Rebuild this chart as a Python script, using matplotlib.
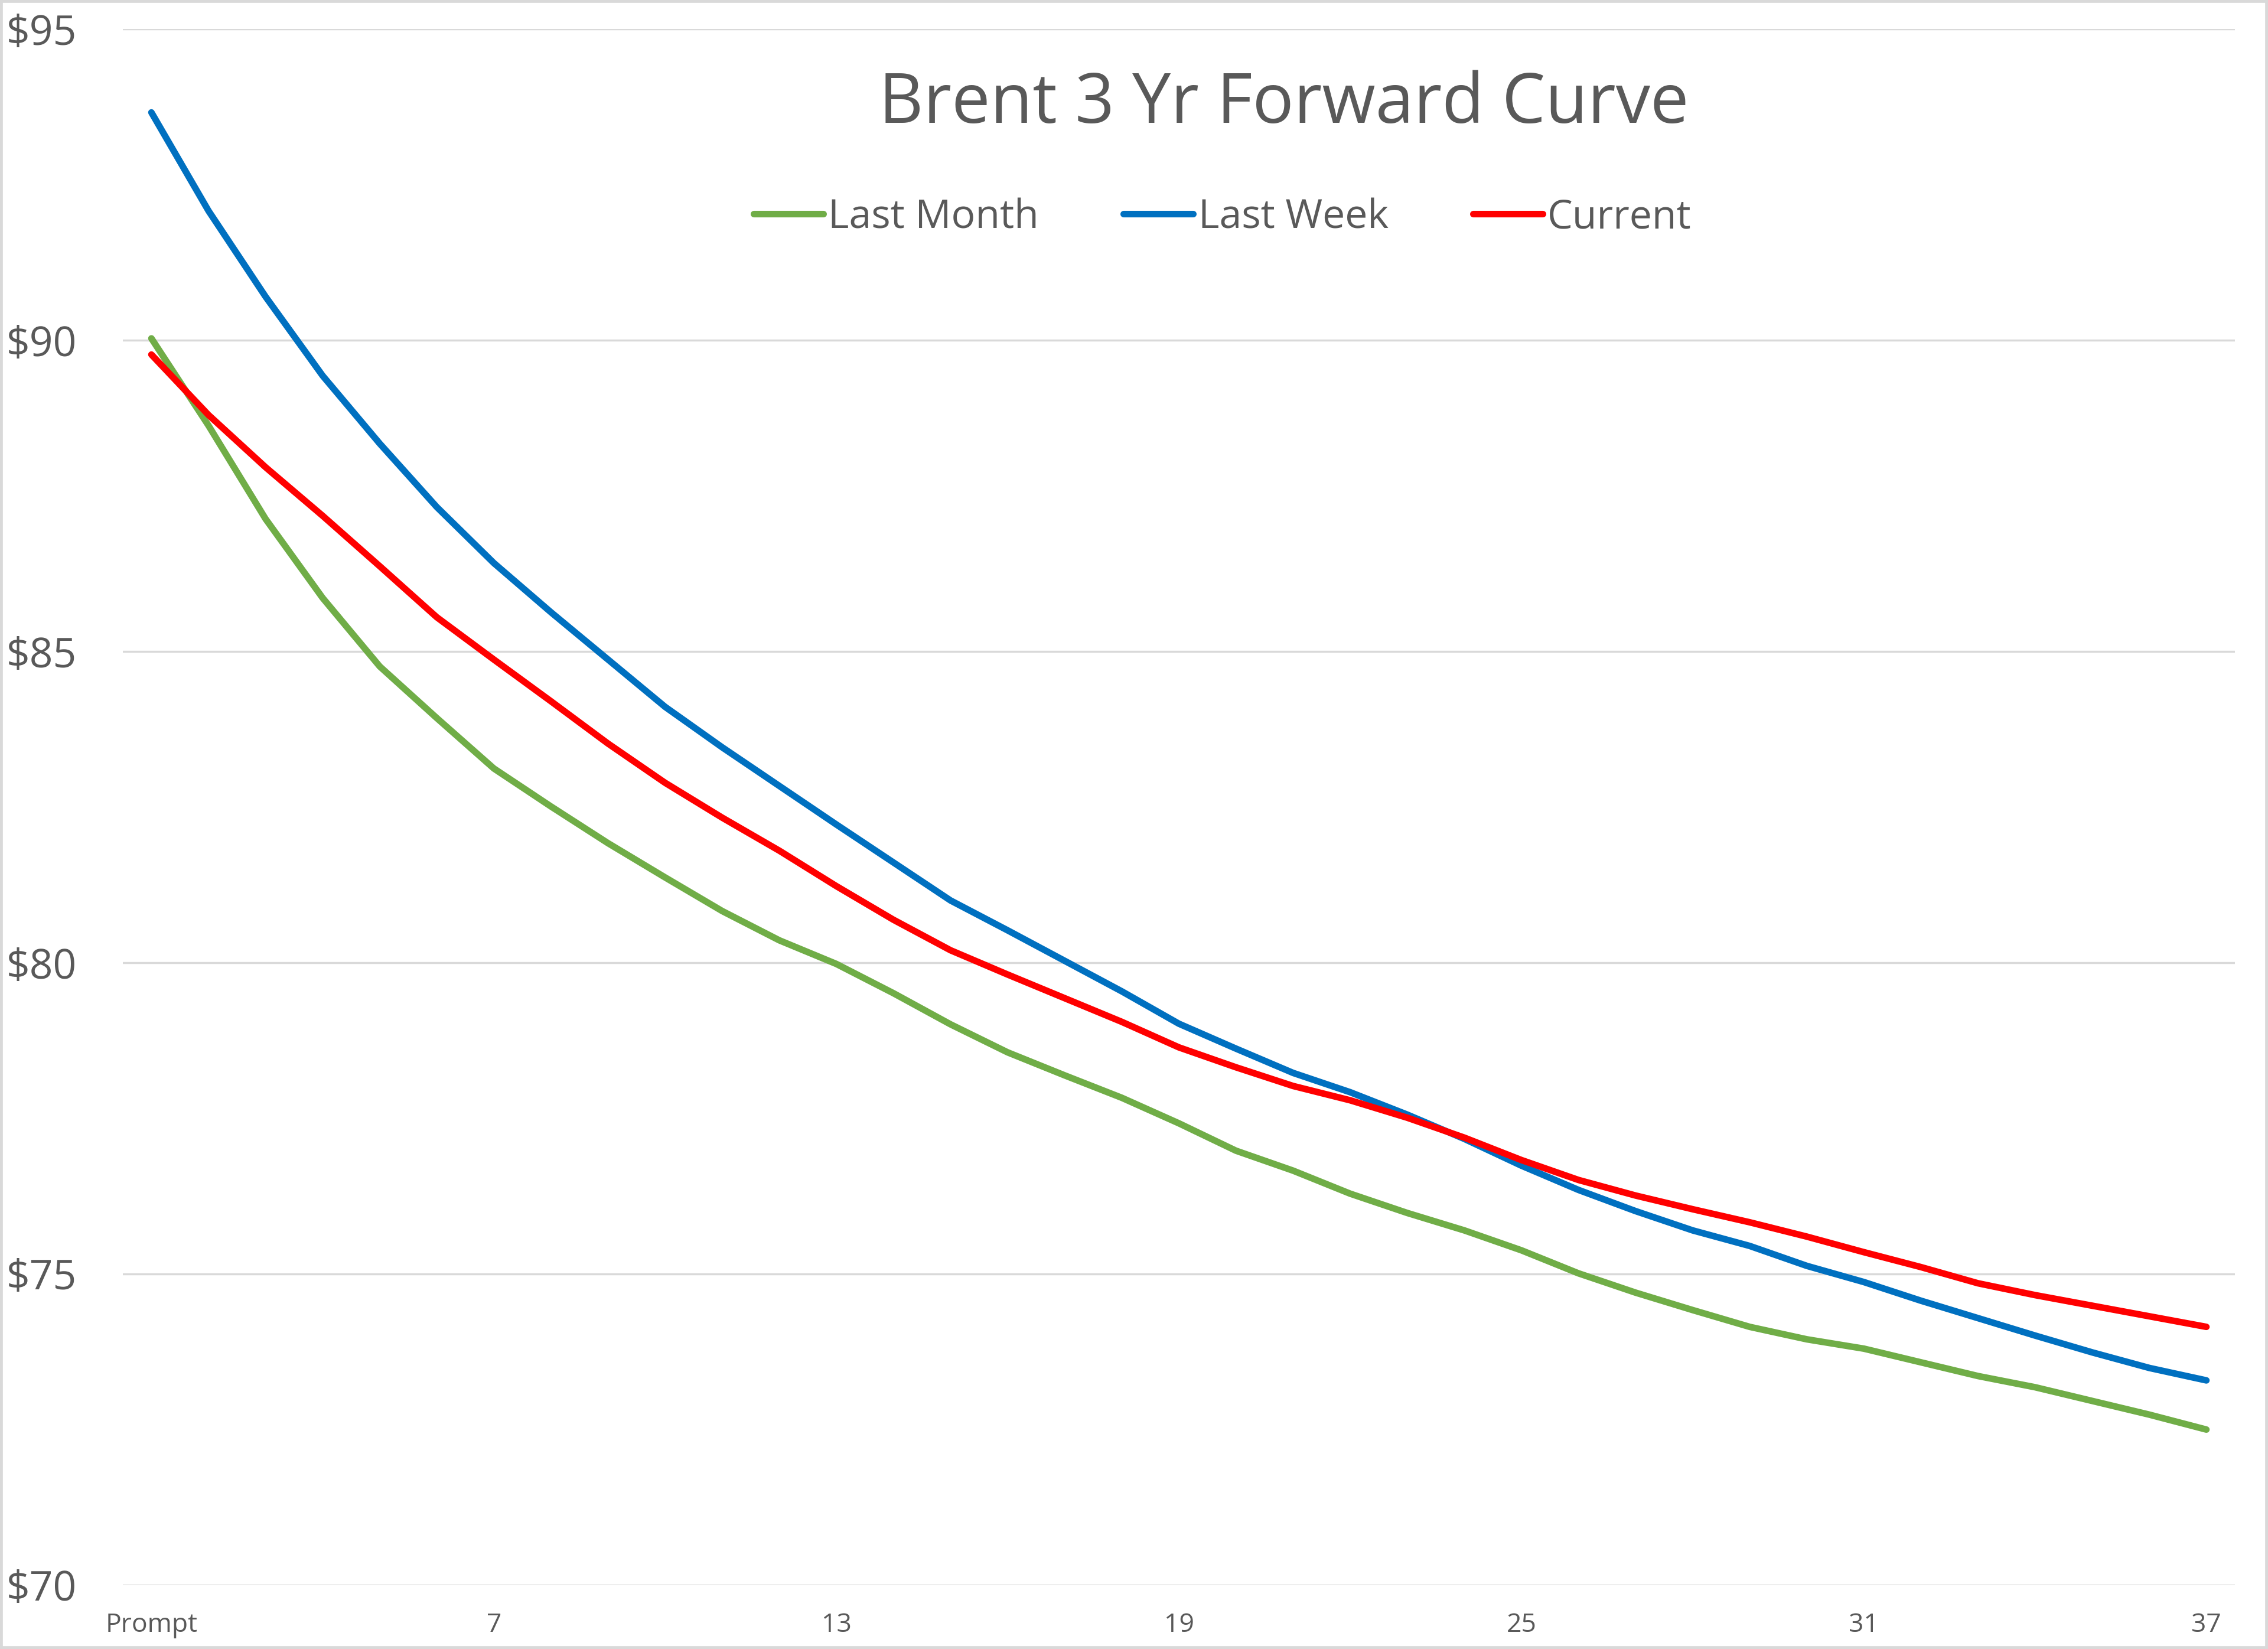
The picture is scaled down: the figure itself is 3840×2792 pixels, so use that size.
import matplotlib
matplotlib.use("Agg")
import matplotlib.pyplot as plt
from matplotlib.patches import Rectangle

# ---- data ----
months = ["Prompt"] + [str(i) for i in range(2, 38)]
last_month = [90.03, 88.63, 87.13, 85.86, 84.76, 83.93, 83.12, 82.51, 81.92, 81.37,
              80.83, 80.36, 79.98, 79.51, 79.01, 78.56, 78.19, 77.83, 77.42, 76.98,
              76.66, 76.29, 75.98, 75.70, 75.38, 75.01, 74.70, 74.42, 74.15, 73.95,
              73.80, 73.58, 73.36, 73.18, 72.96, 72.74, 72.50]
last_week = [93.66, 92.08, 90.70, 89.43, 88.34, 87.32, 86.42, 85.63, 84.87, 84.11,
             83.46, 82.84, 82.22, 81.61, 81.00, 80.52, 80.03, 79.54, 79.02, 78.62,
             78.23, 77.92, 77.56, 77.17, 76.74, 76.35, 76.01, 75.70, 75.45, 75.13,
             74.87, 74.57, 74.29, 74.01, 73.74, 73.49, 73.29]
current = [89.77, 88.80, 87.96, 87.18, 86.37, 85.55, 84.87, 84.20, 83.52, 82.89,
           82.33, 81.80, 81.23, 80.69, 80.20, 79.81, 79.43, 79.05, 78.64, 78.32,
           78.02, 77.79, 77.51, 77.19, 76.83, 76.51, 76.26, 76.04, 75.83, 75.60,
           75.35, 75.11, 74.85, 74.66, 74.49, 74.32, 74.15]
series_names = ["Last Month", "Last Week", "Current"]
y_ticks = [70, 75, 80, 85, 90, 95]
title = "Brent 3 Yr Forward Curve"

plt.rcParams['font.family'] = ['Open Sans', 'DejaVu Sans']
TXT = '#595959'

fig = plt.figure(figsize=(38.4, 27.92), dpi=100)
ax = fig.add_axes([0.05417, 0.0387, 0.93125, 0.9437])

x = list(range(1, len(months) + 1))
colors = ['#70AD47', '#0070C0', '#FF0000']
for vals, name, c in zip([last_month, last_week, current], series_names, colors):
    ax.plot(x, vals, color=c, lw=8, label=name,
            solid_capstyle='round', solid_joinstyle='round')

ax.set_xlim(0.5, len(months) + 0.5)
ax.set_ylim(70, 95)
ax.set_yticks(y_ticks)
ax.set_yticklabels([f"${v}" for v in y_ticks])
tick_idx = list(range(0, len(months), 6))
ax.set_xticks([x[i] for i in tick_idx])
ax.set_xticklabels([months[i] for i in tick_idx])

ax.grid(axis='y', color='#D9D9D9', lw=2.5)
ax.set_axisbelow(True)
for s in ax.spines.values():
    s.set_visible(False)
ax.tick_params(axis='y', length=0, pad=56, labelsize=50, labelcolor=TXT)
ax.tick_params(axis='x', length=0, pad=33, labelsize=32, labelcolor=TXT)

fig.text(0.566, 0.9255, title, ha='center', va='baseline', fontsize=84, color=TXT)

leg = fig.legend(loc='center', bbox_to_anchor=(0.539, 0.868), ncol=3, frameon=False,
                 fontsize=49, handlelength=1.74, handletextpad=0.12,
                 columnspacing=2.1, labelcolor=TXT)

fig.patches.append(Rectangle((0, 0), 1, 1, transform=fig.transFigure, fill=False,
                             edgecolor='#D9D9D9', linewidth=7))

fig.savefig("out.png", dpi=100)
